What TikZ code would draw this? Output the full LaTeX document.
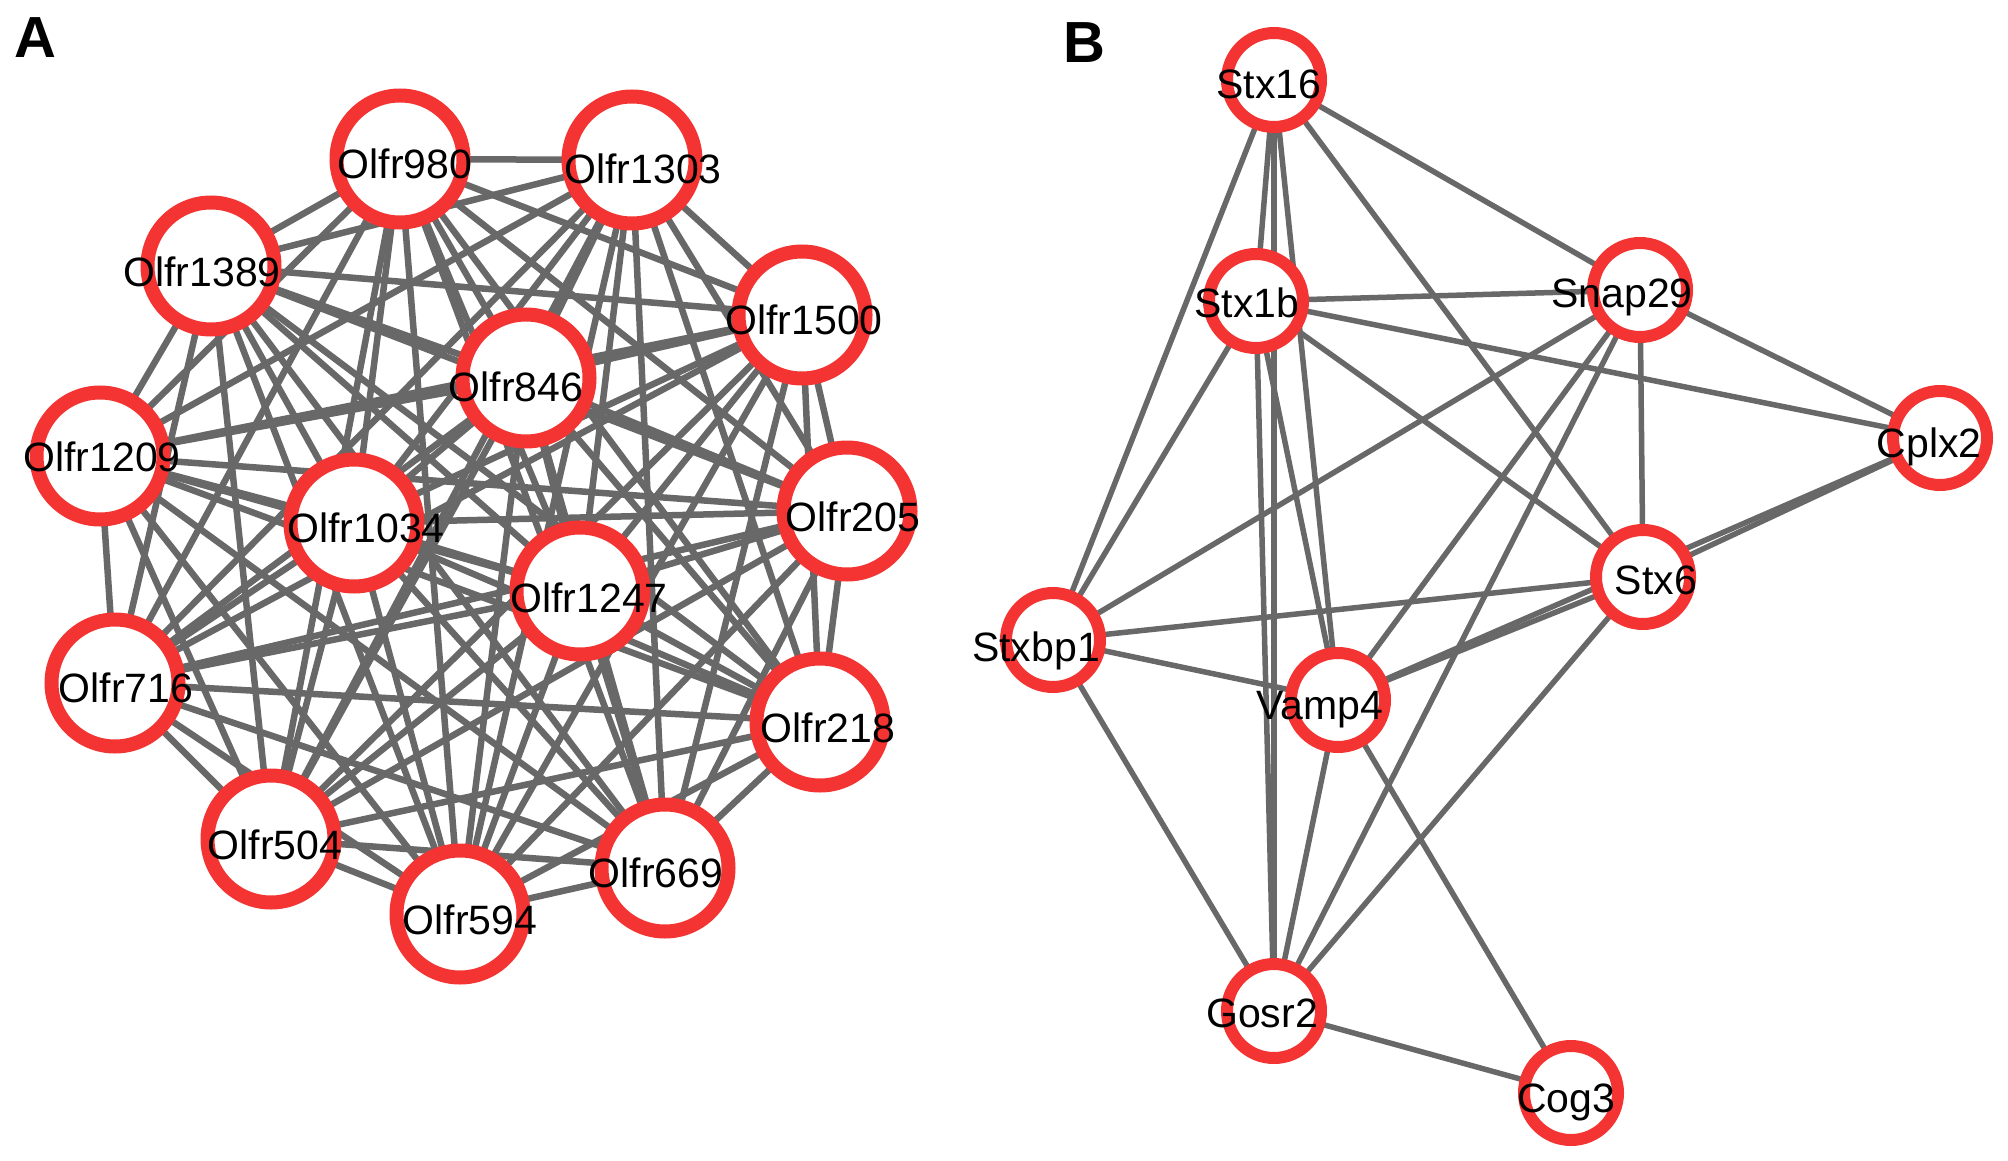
\documentclass[tikz,border=0pt]{standalone}
\usepackage{fontspec}
\setmainfont{Liberation Sans}
\usetikzlibrary{backgrounds}
\definecolor{ringred}{RGB}{243,52,50}
\definecolor{edgegray}{RGB}{104,104,104}
\newcommand\gnodeA[6]{\node[ringA] (#1) at (#2,#3) {}; \node[lbl] (#1t) at (#4,#5+14) {#6};}
\newcommand\gnodeB[6]{\node[ringB] (#1) at (#2,#3) {}; \node[lbl] (#1t) at (#4,#5+14) {#6};}
\begin{document}
\begin{tikzpicture}[x=1pt,y=-1pt,
  ringA/.style={circle, draw=ringred, line width=14pt, fill=white, minimum size=127pt, inner sep=0pt, outer sep=0pt},
  ringB/.style={circle, draw=ringred, line width=12pt, fill=white, minimum size=94pt, inner sep=0pt, outer sep=0pt},
  lbl/.style={anchor=base, inner sep=0pt, font=\fontsize{41}{48}\selectfont, text=black},
  panel/.style={anchor=base, inner sep=0pt, font=\fontsize{58}{60}\selectfont\bfseries, text=black},
  edgeA/.style={draw=edgegray, line width=6.5pt},
  edgeB/.style={draw=edgegray, line width=5.5pt}]
\useasboundingbox (0,0) rectangle (2008,1161);

\node[panel] (labA) at (35,37+21) {A};
\node[panel] (labB) at (1084,42+21) {B};

% Panel A
\gnodeA{a1}{400}{159}{405}{165}{Olfr980}
\gnodeA{a2}{632}{160}{643}{170}{Olfr1303}
\gnodeA{a3}{211}{266}{202}{273}{Olfr1389}
\gnodeA{a4}{802}{315}{804}{320}{Olfr1500}
\gnodeA{a5}{526}{378}{516}{387}{Olfr846}
\gnodeA{a6}{100}{456}{102}{457}{Olfr1209}
\gnodeA{a7}{354}{523}{366}{528}{Olfr1034}
\gnodeA{a8}{847}{511}{853}{517}{Olfr205}
\gnodeA{a9}{580}{591}{589}{598}{Olfr1247}
\gnodeA{a10}{115}{683}{126}{688}{Olfr716}
\gnodeA{a11}{820}{722}{828}{728}{Olfr218}
\gnodeA{a12}{271}{839}{275}{845}{Olfr504}
\gnodeA{a13}{460}{914}{470}{920}{Olfr594}
\gnodeA{a14}{665}{868}{656}{873}{Olfr669}

% Panel B
\gnodeB{stxa}{1274}{80}{1269}{85}{Stx16}
\gnodeB{stxb}{1256}{301}{1247}{303}{Stx1b}
\gnodeB{snap}{1640}{290}{1622}{293}{Snap29}
\gnodeB{cplx}{1940}{438}{1929}{443}{Cplx2}
\gnodeB{stxs}{1643}{577}{1656}{580}{Stx6}
\gnodeB{stxbp}{1053}{640}{1036}{647}{Stxbp1}
\gnodeB{vamp}{1338}{700}{1320}{705}{Vamp4}
\gnodeB{gosr}{1274}{1011}{1262}{1013}{Gosr2}
\gnodeB{cog}{1571}{1093}{1566}{1098}{Cog3}

\begin{scope}[on background layer]
\fill[white] (0,0) rectangle (2008,1161);
\foreach \i in {1,...,14}{
  \foreach \j in {1,...,14}{
    \ifnum\j>\i \draw[edgeA] (a\i) -- (a\j); \fi
  }
}
\foreach \u/\v in {stxa/stxb, stxa/snap, stxa/stxs, stxa/stxbp, stxa/vamp, stxa/gosr,
  stxb/snap, stxb/cplx, stxb/stxs, stxb/stxbp, stxb/vamp, stxb/gosr,
  snap/cplx, snap/stxs, snap/stxbp, snap/vamp, snap/gosr,
  stxs/cplx, stxs/stxbp, stxs/vamp, stxs/gosr,
  vamp/cplx, stxbp/vamp, stxbp/gosr, vamp/gosr, vamp/cog, gosr/cog}{
  \draw[edgeB] (\u) -- (\v);
}
\end{scope}
\end{tikzpicture}
\end{document}
